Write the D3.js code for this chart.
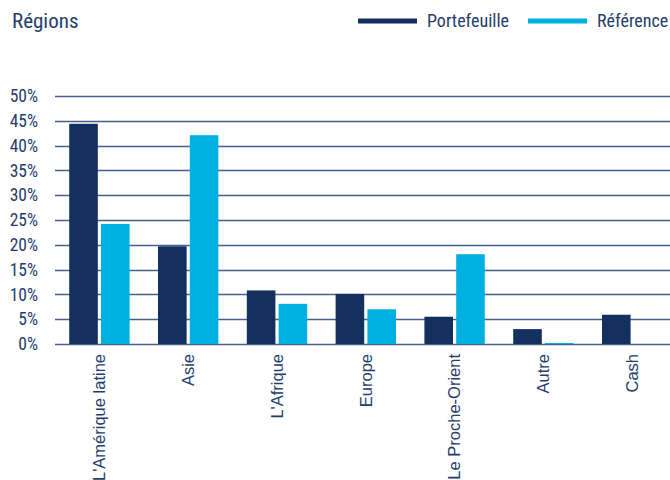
<!DOCTYPE html>
<html lang="fr">
<head>
<meta charset="utf-8">
<script src="https://d3js.org/d3.v7.min.js"></script>
<style>
  body { margin: 0; background: #fff; }
</style>
</head>
<body>
<div id="chart"></div>
<script>
// data
var regions = ["L'Amérique latine", "Asie", "L'Afrique", "Europe", "Le Proche-Orient", "Autre", "Cash"];
var portefeuille = [44.4, 19.7, 10.8, 10.1, 5.5, 3.0, 5.9];
var reference = [24.2, 42.1, 8.1, 7.0, 18.1, 0.2, 0];
var seriesNames = ["Portefeuille", "Référence"];
var yTicks = [0, 5, 10, 15, 20, 25, 30, 35, 40, 45, 50];

var colors = ["#14305f", "#00b0e0"];
var navy = "#243d6b";
var narrow = "'Liberation Sans Narrow', 'Roboto Condensed', 'Liberation Sans', sans-serif";

var W = 670, H = 480;
var margin = {top: 96, right: 0, bottom: 136, left: 55};
var width = W - margin.left - margin.right,
    height = H - margin.top - margin.bottom;

var svg = d3.select("#chart").append("svg")
  .attr("width", W)
  .attr("height", H);

// title
svg.append("text")
  .attr("x", 12).attr("y", 28)
  .style("font-family", narrow)
  .style("font-size", "21px")
  .style("fill", navy)
  .text("Régions");

// legend
var legendX = [358, 528];
seriesNames.forEach(function(name, i) {
  svg.append("line")
    .attr("x1", legendX[i]).attr("x2", legendX[i] + 59)
    .attr("y1", 21).attr("y2", 21)
    .style("stroke", colors[i])
    .style("stroke-width", 5);
  svg.append("text")
    .attr("x", legendX[i] + 69).attr("y", 27)
    .style("font-family", narrow)
    .style("font-size", "18px")
    .style("fill", navy)
    .text(name);
});

var g = svg.append("g")
  .attr("transform", "translate(" + margin.left + "," + margin.top + ")");

var y = d3.scaleLinear().domain([0, 50]).range([height, 0]);
// plot area runs a little past the right edge of the picture
var x0 = d3.scaleBand().domain(regions).range([0, 621.6]).paddingInner(0.32).paddingOuter(0.16);
var x1 = d3.scaleBand().domain(seriesNames).range([0, x0.bandwidth()]).paddingInner(0.1);

// gridlines
g.append("g")
  .selectAll("line")
  .data(yTicks)
  .enter().append("line")
    .attr("x1", 0).attr("x2", width)
    .attr("y1", function(d) { return Math.round(y(d)) + 0.5; })
    .attr("y2", function(d) { return Math.round(y(d)) + 0.5; })
    .style("stroke", "#4a5f8c")
    .style("stroke-width", 1.3);

// y axis labels
var yAxis = g.append("g")
  .call(d3.axisLeft(y).tickValues(yTicks).tickSize(0).tickPadding(17)
    .tickFormat(function(d) { return d + "%"; }));
yAxis.select(".domain").remove();
yAxis.selectAll("text")
  .style("font-family", narrow)
  .style("font-size", "17.5px")
  .style("fill", navy);

// bars
var rows = regions.map(function(r, i) {
  return {region: r, values: [portefeuille[i], reference[i]]};
});

var groups = g.selectAll(".grp")
  .data(rows)
  .enter().append("g")
    .attr("class", "grp")
    .attr("transform", function(d) { return "translate(" + x0(d.region) + ",0)"; });

groups.selectAll("rect")
  .data(function(d) { return d.values.map(function(v, i) { return {name: seriesNames[i], value: v, i: i}; }); })
  .enter().append("rect")
    .attr("x", function(d) { return x1(d.name); })
    .attr("y", function(d) { return y(d.value); })
    .attr("width", x1.bandwidth())
    .attr("height", function(d) { return height - y(d.value); })
    .style("fill", function(d) { return colors[d.i]; });

// x axis labels
var xAxis = g.append("g")
  .attr("transform", "translate(0," + height + ")")
  .call(d3.axisBottom(x0).tickSize(0).tickPadding(0));
xAxis.select(".domain").remove();
xAxis.selectAll("text")
  .attr("transform", "rotate(-90)")
  .attr("x", -10)
  .attr("y", 0)
  .attr("dy", "0.35em")
  .style("text-anchor", "end")
  .style("font-family", "'Liberation Sans', Arial, sans-serif")
  .style("font-size", "16.5px")
  .style("fill", navy);
</script>
</body>
</html>
